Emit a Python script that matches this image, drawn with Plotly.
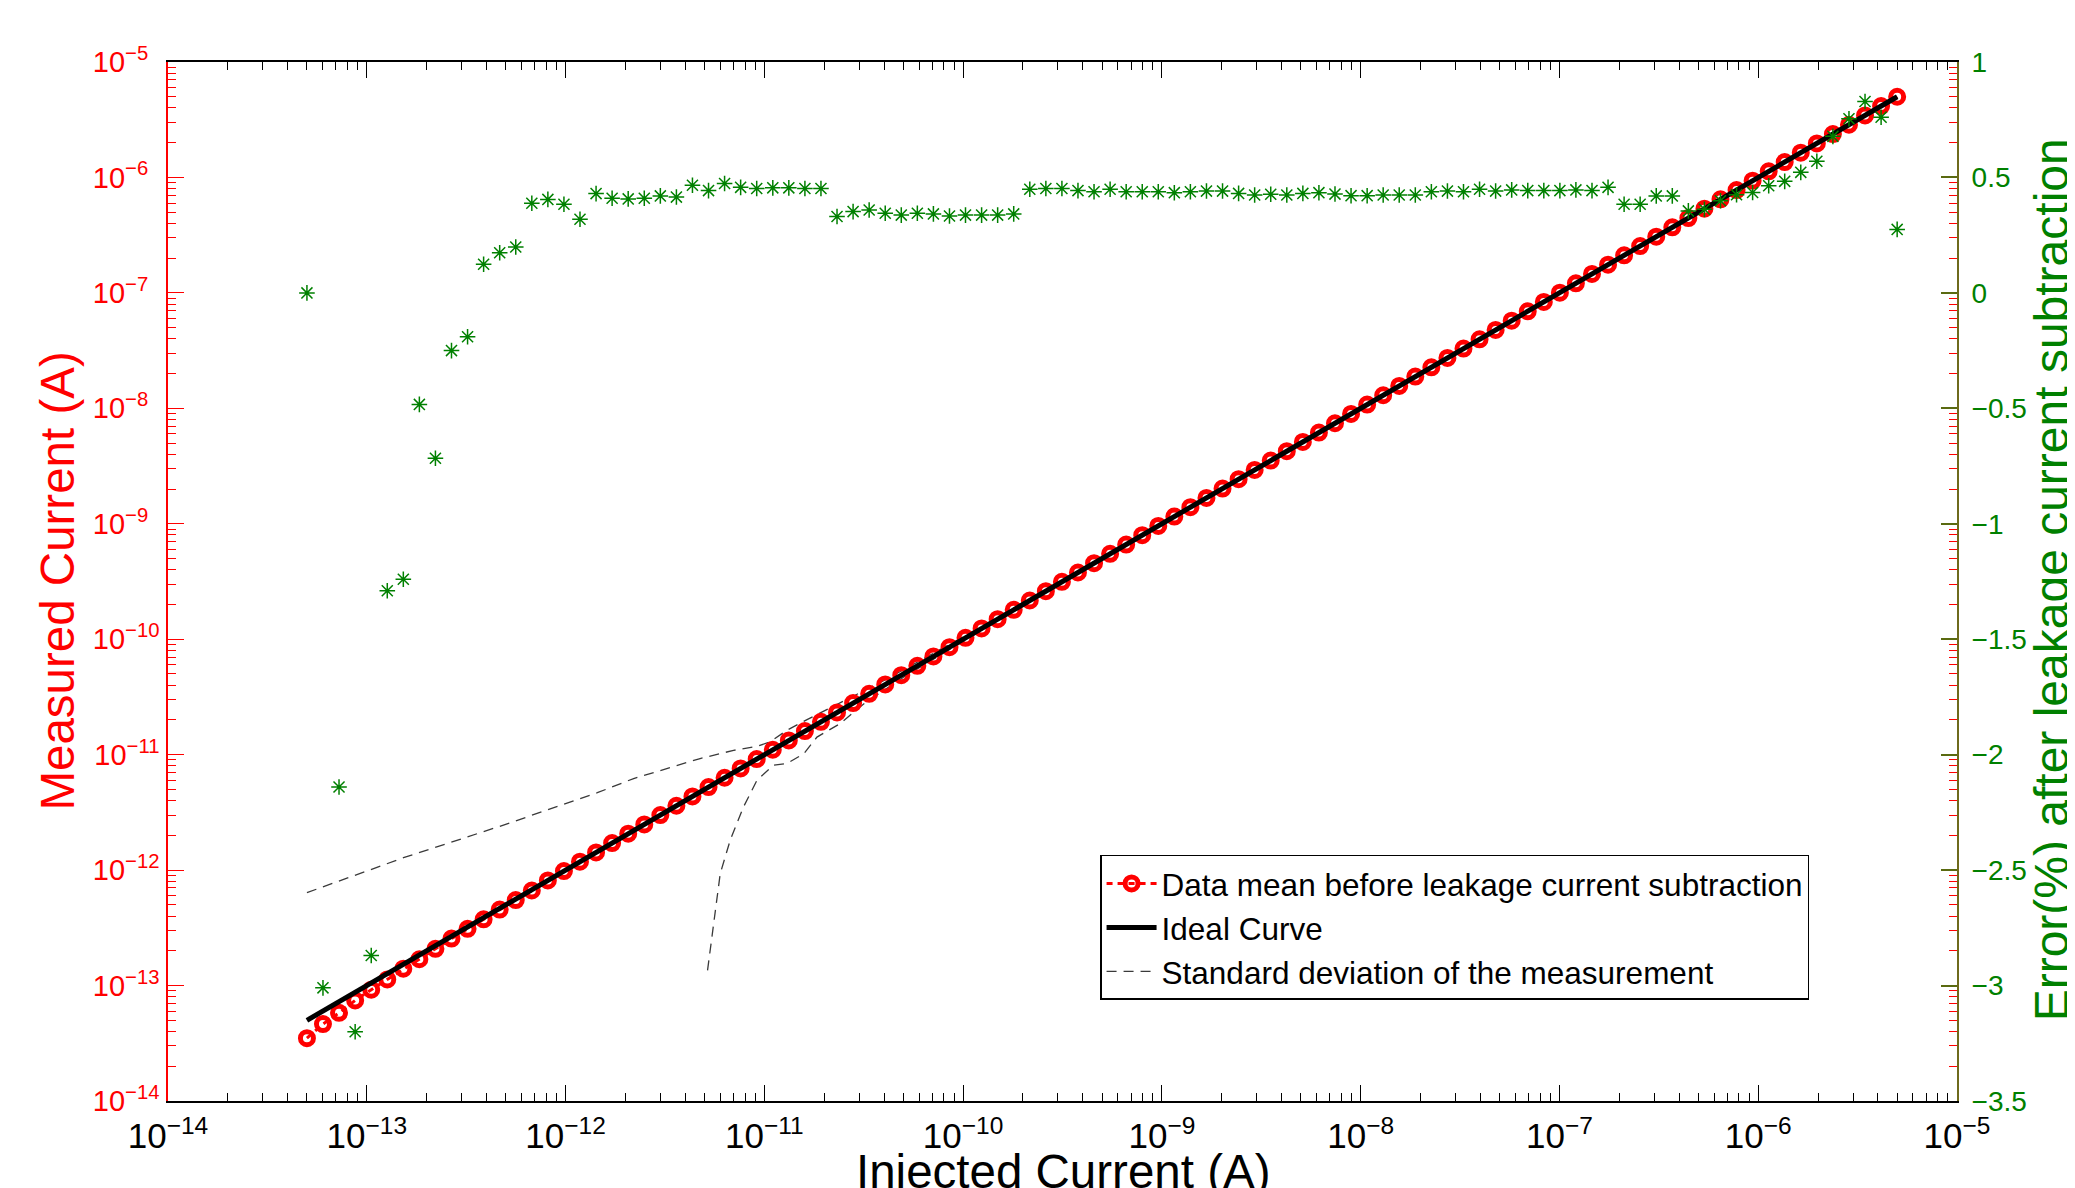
import plotly.graph_objects as go

# ---------------- data ----------------
injected = [
    5.00e-14, 6.02e-14, 7.25e-14, 8.74e-14, 1.053e-13, 1.268e-13, 1.527e-13, 1.839e-13, 2.215e-13, 2.668e-13,
    3.214e-13, 3.871e-13, 4.663e-13, 5.616e-13, 6.765e-13, 8.148e-13, 9.815e-13, 1.182e-12, 1.424e-12, 1.715e-12,
    2.066e-12, 2.489e-12, 2.998e-12, 3.611e-12, 4.349e-12, 5.239e-12, 6.310e-12, 7.601e-12, 9.155e-12, 1.103e-11,
    1.328e-11, 1.600e-11, 1.927e-11, 2.321e-11, 2.796e-11, 3.368e-11, 4.057e-11, 4.886e-11, 5.885e-11, 7.089e-11,
    8.539e-11, 1.028e-10, 1.239e-10, 1.492e-10, 1.797e-10, 2.165e-10, 2.608e-10, 3.141e-10, 3.783e-10, 4.557e-10,
    5.489e-10, 6.612e-10, 7.964e-10, 9.589e-10, 1.155e-9, 1.391e-9, 1.676e-9, 2.019e-9, 2.432e-9, 2.929e-9,
    3.528e-9, 4.250e-9, 5.119e-9, 6.166e-9, 7.427e-9, 8.946e-9, 1.078e-8, 1.298e-8, 1.563e-8, 1.883e-8,
    2.268e-8, 2.732e-8, 3.291e-8, 3.964e-8, 4.775e-8, 5.751e-8, 6.928e-8, 8.344e-8, 1.005e-7, 1.210e-7,
    1.458e-7, 1.756e-7, 2.115e-7, 2.547e-7, 3.069e-7, 3.696e-7, 4.452e-7, 5.362e-7, 6.459e-7, 7.780e-7,
    9.371e-7, 1.129e-6, 1.359e-6, 1.637e-6, 1.972e-6, 2.375e-6, 2.861e-6, 3.446e-6, 4.151e-6, 5.000e-6,
]

# measured mean: below ideal at the low end, on the ideal line afterwards
measured_low = [3.50e-14, 4.64e-14, 5.80e-14, 7.43e-14, 9.21e-14, 1.129e-13, 1.400e-13, 1.69e-13,
                2.08e-13, 2.55e-13, 3.10e-13, 3.75e-13, 4.55e-13, 5.50e-13, 6.66e-13]
measured = measured_low + injected[len(measured_low):]

ideal_x = [5.0e-14, 5.0e-6]
ideal_y = [5.0e-14, 5.0e-6]

std_upper_x = [5.00e-14, 1.53e-13, 4.65e-13, 1.445e-12, 2.20e-12, 3.24e-12, 4.75e-12, 7.00e-12, 9.18e-12,
               1.07e-11, 1.30e-11, 1.64e-11, 2.22e-11, 3.98e-11, 1.0e-10, 3.16e-10, 5.0e-6]
std_upper_y = [6.38e-13, 1.28e-12, 2.39e-12, 4.68e-12, 6.21e-12, 7.59e-12, 9.25e-12, 1.09e-11, 1.18e-11,
               1.29e-11, 1.63e-11, 2.01e-11, 2.63e-11, 4.37e-11, 1.047e-10, 3.24e-10, 5.0e-6]

std_lower_x = [5.18e-12, 5.55e-12, 6.00e-12, 6.73e-12, 7.85e-12, 9.18e-12, 1.11e-11, 1.30e-11, 1.58e-11,
               1.84e-11, 2.41e-11, 3.16e-11, 5.01e-11, 1.0e-10, 3.16e-10, 5.0e-6]
std_lower_y = [1.355e-13, 3.21e-13, 9.33e-13, 1.81e-12, 3.52e-12, 6.00e-12, 8.09e-12, 8.38e-12, 1.02e-11,
               1.42e-11, 1.86e-11, 2.75e-11, 4.68e-11, 9.55e-11, 3.09e-10, 4.98e-6]

error_pct = [
    0.00, -3.01, -2.14, -3.20, -2.87, -1.29, -1.24, -0.483, -0.716, -0.250,
    -0.190, 0.124, 0.174, 0.199, 0.388, 0.405, 0.384, 0.319, 0.430, 0.410,
    0.407, 0.410, 0.420, 0.415, 0.466, 0.443, 0.474, 0.457, 0.452, 0.455,
    0.455, 0.452, 0.452, 0.331, 0.352, 0.359, 0.345, 0.337, 0.345, 0.342,
    0.333, 0.337, 0.337, 0.337, 0.342, 0.449, 0.452, 0.452, 0.443, 0.438,
    0.449, 0.438, 0.438, 0.438, 0.434, 0.438, 0.441, 0.441, 0.431, 0.424,
    0.427, 0.424, 0.431, 0.434, 0.428, 0.421, 0.421, 0.424, 0.424, 0.424,
    0.438, 0.441, 0.438, 0.449, 0.441, 0.446, 0.443, 0.443, 0.443, 0.446,
    0.443, 0.457, 0.384, 0.384, 0.420, 0.420, 0.355, 0.362, 0.399, 0.425,
    0.435, 0.464, 0.483, 0.522, 0.570, 0.678, 0.754, 0.829, 0.761, 0.275,
]

# left-axis ticks (decades) and their labels, left-aligned like the original
y_tickvals = [1e-14, 1e-13, 1e-12, 1e-11, 1e-10, 1e-9, 1e-8, 1e-7, 1e-6, 1e-5]
y_exponents = ["−14", "−13", "−12", "−11", "−10", "−9", "−8", "−7", "−6", "−5"]

x_title = "Injected Current (A)"
y_title = "Measured Current (A)"
y2_title = "Error(%) after leakage current subtraction"

# ---------------- styling ----------------
FONT = "Liberation Sans, Arial, Helvetica, sans-serif"
RED = "#ff0000"
GREEN = "#008000"
DASHGREY = "#3a3a3a"
TICKSIZE = 28

# pad short exponents with figure spaces so labels line up on the left
maxlen = max(len(e) for e in y_exponents)
y_ticktext = ["10<sup>" + e + "\u2007" * (maxlen - len(e)) + "</sup>" for e in y_exponents]

fig = go.Figure()

fig.add_trace(go.Scatter(
    x=std_upper_x, y=std_upper_y, mode="lines",
    line=dict(color=DASHGREY, width=1.3, dash="10px,7px"),
    name="Standard deviation of the measurement", legendrank=3,
))
fig.add_trace(go.Scatter(
    x=std_lower_x, y=std_lower_y, mode="lines",
    line=dict(color=DASHGREY, width=1.3, dash="10px,7px"),
    showlegend=False,
))
fig.add_trace(go.Scatter(
    x=injected, y=measured, mode="lines+markers",
    line=dict(color=RED, width=3, dash="6px,5px"),
    marker=dict(symbol="circle-open", size=13, color=RED, line=dict(color=RED, width=5)),
    name="Data mean before leakage current subtraction", legendrank=1,
))
fig.add_trace(go.Scatter(
    x=ideal_x, y=ideal_y, mode="lines",
    line=dict(color="black", width=5),
    name="Ideal Curve", legendrank=2,
))
fig.add_trace(go.Scatter(
    x=injected, y=error_pct, mode="markers", yaxis="y2",
    marker=dict(symbol="asterisk-open", size=13, color=GREEN, line=dict(color=GREEN, width=1.5)),
    showlegend=False,
))

fig.update_layout(
    width=2075, height=1188,
    margin=dict(l=160, r=126, t=54, b=95),
    paper_bgcolor="white", plot_bgcolor="white",
    font=dict(family=FONT, size=TICKSIZE, color="black"),
    showlegend=True,
    legend=dict(
        x=0.521, y=0.2368, xanchor="left", yanchor="top",
        bgcolor="white", bordercolor="black", borderwidth=1.5,
        font=dict(family=FONT, size=31.5, color="black"),
        tracegroupgap=0, itemwidth=50,
    ),
    xaxis=dict(
        type="log", range=[-14, -5], dtick=1, exponentformat="power",
        ticks="inside", ticklen=16, tickwidth=1.2, tickcolor="black",
        minor=dict(ticks="inside", ticklen=8, tickwidth=1, tickcolor="black", showgrid=False),
        showline=True, linecolor="black", linewidth=1.5, mirror="ticks",
        showgrid=False, zeroline=False,
        tickfont=dict(family=FONT, size=TICKSIZE, color="black"),
        ticklabelstandoff=5,
        automargin=False,
    ),
    yaxis=dict(
        type="log", range=[-14, -5], tickmode="array", tickvals=y_tickvals, ticktext=y_ticktext,
        ticks="inside", ticklen=16, tickwidth=1.2, tickcolor=RED,
        minor=dict(ticks="inside", ticklen=8, tickwidth=1, tickcolor=RED, showgrid=False, dtick="D1"),
        showline=True, linecolor=RED, linewidth=1.5, mirror="ticks",
        showgrid=False, zeroline=False,
        tickfont=dict(family=FONT, size=29, color=RED),
        ticklabelstandoff=1,
        automargin=False,
    ),
    yaxis2=dict(
        overlaying="y", side="right", range=[-3.5, 1], dtick=0.5,
        ticks="inside", ticklen=16, tickwidth=1.5, tickcolor="#5a6a10",
        showline=True, linecolor="#6e6a1c", linewidth=2,
        showgrid=False, zeroline=False,
        tickfont=dict(family=FONT, size=TICKSIZE, color=GREEN),
        ticklabelstandoff=7,
        automargin=False,
    ),
    annotations=[
        dict(text=x_title, xref="paper", yref="paper", x=0.5, y=-0.068,
             xanchor="center", yanchor="middle", showarrow=False,
             font=dict(family=FONT, size=47.5, color="black")),
        dict(text=y_title, xref="paper", yref="paper", x=-0.062, y=0.5, textangle=-90,
             xanchor="center", yanchor="middle", showarrow=False,
             font=dict(family=FONT, size=47.5, color=RED)),
        dict(text=y2_title, xref="paper", yref="paper", x=1.0525, y=0.502, textangle=-90,
             xanchor="center", yanchor="middle", showarrow=False,
             font=dict(family=FONT, size=48, color=GREEN)),
    ],
)

fig.write_html("out.html")
